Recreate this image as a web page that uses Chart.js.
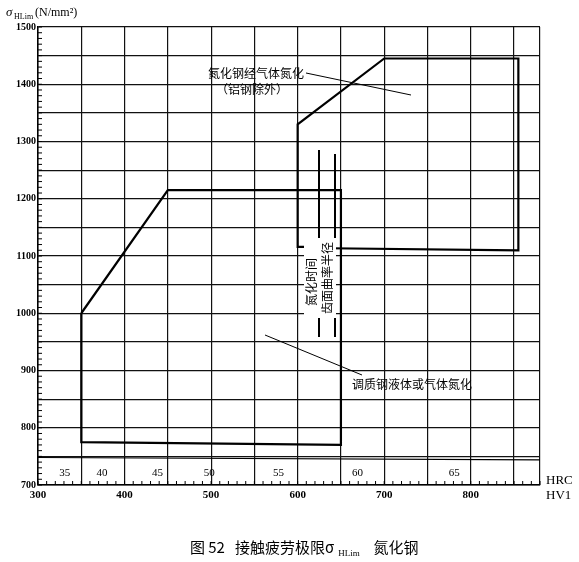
<!DOCTYPE html><html><head><meta charset="utf-8">
<script src="https://cdn.jsdelivr.net/npm/chart.js@4"></script>
<style>html,body{margin:0;background:#fff}#w{width:579px;height:562px}</style></head><body><div id="w"><canvas id="c"></canvas></div>
<script>
const temperedHV = [350, 450, 650, 650, 350, 350];
const temperedS  = [1000, 1215, 1215, 770, 775, 1000];
const nitridedHV = [612, 600, 600, 700, 855, 855, 610];
const nitridedS  = [1116, 1116, 1330, 1445, 1445, 1110, 1114];
const hrcValues = [35, 40, 45, 50, 55, 60, 65];
const hrcAtHV   = [331, 374, 438, 498, 578, 669, 781];
const hvTickLabels = [300, 400, 500, 600, 700, 800];
const stressTickLabels = [700, 800, 900, 1000, 1100, 1200, 1300, 1400, 1500];
const pts = (xs, ys) => xs.map((x, i) => ({x, y: ys[i]}));
const serif = '"Liberation Serif", serif';
const cjk = '"Noto Sans CJK SC", sans-serif';
const deco = {
  id: 'deco',
  afterDatasetsDraw(ch) {
    const c = ch.ctx, x = ch.scales.x, y = ch.scales.y, a = ch.chartArea;
    c.save(); c.strokeStyle = '#000'; c.fillStyle = '#000';
    c.lineWidth = 1;
    for (let v = 300; v <= 880; v += 10) { const px = x.getPixelForValue(v); c.beginPath(); c.moveTo(px, a.bottom); c.lineTo(px, a.bottom - 4); c.stroke(); }
    for (let v = 700; v <= 1500; v += 10) { const py = y.getPixelForValue(v); c.beginPath(); c.moveTo(a.left, py); c.lineTo(a.left + 4, py); c.stroke(); }
    c.lineWidth = 1.2; c.beginPath(); c.moveTo(a.left, y.getPixelForValue(748)); c.lineTo(a.right, y.getPixelForValue(744)); c.stroke();
    c.font = '11px ' + serif; c.textAlign = 'center'; c.textBaseline = 'alphabetic';
    hrcValues.forEach((h, i) => c.fillText(String(h), x.getPixelForValue(hrcAtHV[i]), y.getPixelForValue(715)));
    c.textAlign = 'left'; c.font = '13px ' + serif;
    c.fillText('HRC', a.right + 6, a.bottom - 1);
    c.fillText('HV1', a.right + 6, a.bottom + 14);
    c.font = 'italic 13px ' + serif; c.fillText('σ', 6, 16);
    c.font = '8px ' + serif; c.fillText('HLim', 14, 19);
    c.font = '12px ' + serif; c.fillText('(N/mm²)', 35, 16);
    c.font = '12px ' + cjk; c.textAlign = 'left';
    c.fillText('氮化钢经气体氮化', 208, 78);
    c.fillText('（铝钢除外）', 216, 94);
    c.fillText('调质钢液体或气体氮化', 352, 389);
    c.lineWidth = 1;
    c.beginPath(); c.moveTo(306, 73); c.lineTo(411, 95); c.stroke();
    c.beginPath(); c.moveTo(265, 335); c.lineTo(362, 375); c.stroke();
    c.lineWidth = 2;
    c.beginPath(); c.moveTo(319, 150); c.lineTo(319, 337); c.stroke();
    c.beginPath(); c.moveTo(335, 154); c.lineTo(335, 337); c.stroke();
    c.fillStyle = '#fff'; c.fillRect(304, 238, 32, 80); c.fillStyle = '#000';
    c.font = '12px ' + cjk; c.textAlign = 'center'; c.textBaseline = 'middle';
    c.save(); c.translate(311, 282); c.rotate(-Math.PI / 2); c.fillText('氮化时间', 0, 0); c.restore();
    c.save(); c.translate(327, 278); c.rotate(-Math.PI / 2); c.fillText('齿面曲率半径', 0, 0); c.restore();
    c.textAlign = 'center'; c.textBaseline = 'alphabetic'; c.font = '15px ' + cjk;
    c.fillText('图 52   接触疲劳极限σ', 262, 553);
    c.font = '9px ' + serif; c.fillText('HLim', 349, 556);
    c.font = '15px ' + cjk; c.fillText('氮化钢', 396, 553);
    c.restore();
  }
};
new Chart(document.getElementById('c'), {
  type: 'scatter',
  data: { datasets: [
    { data: pts(temperedHV, temperedS), showLine: true, borderColor: '#000', borderWidth: 2.2, pointRadius: 0, tension: 0 },
    { data: pts(nitridedHV, nitridedS), showLine: true, borderColor: '#000', borderWidth: 2.2, pointRadius: 0, tension: 0 }
  ]},
  plugins: [deco],
  options: {
    responsive: true, maintainAspectRatio: false, animation: false,
    layout: { padding: { left: 0, top: 27, right: 39, bottom: 0 } },
    plugins: { legend: { display: false }, tooltip: { enabled: false } },
    scales: {
      x: { type: 'linear', min: 300, max: 880,
        afterFit: s => { s.height = 77; },
        afterBuildTicks: s => { const t = []; for (let v = 300; v <= 850; v += 50) t.push({value: v}); t.push({value: 880}); s.ticks = t; },
        grid: { color: '#111', lineWidth: 1.2, drawTicks: false },
        border: { color: '#000', width: 1.5 },
        ticks: { padding: 4, maxRotation: 0, autoSkip: false, color: '#000', font: { family: serif, size: 11, weight: 'bold' },
          callback: v => hvTickLabels.includes(v) ? String(v) : '' } },
      y: { type: 'linear', min: 700, max: 1500,
        afterFit: s => { s.width = 38; },
        afterBuildTicks: s => { const t = []; for (let v = 700; v <= 1500; v += 50) t.push({value: v}); s.ticks = t; },
        grid: { color: '#111', lineWidth: 1.2, drawTicks: false },
        border: { color: '#000', width: 1.5 },
        ticks: { padding: 2, color: '#000', font: { family: serif, size: 10, weight: 'bold' },
          callback: v => stressTickLabels.includes(v) ? String(v) : '' } }
    }
  }
});
</script></body></html>
